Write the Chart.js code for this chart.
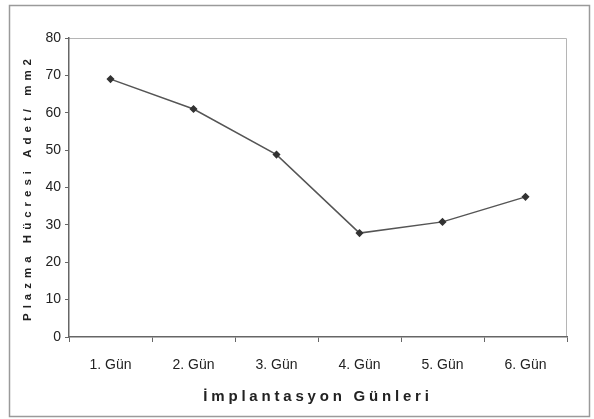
<!DOCTYPE html>
<html><head>
<meta charset="utf-8">
<title>Plazma Hücresi</title>
<style>
  body { margin: 0; background: #ffffff; }
  canvas { display: block; }
</style>
</head>
<body>
<canvas id="chart" width="594" height="419"></canvas>
<script src="https://cdn.jsdelivr.net/npm/chart.js"></script>
<script>
const days = ['1. Gün', '2. Gün', '3. Gün', '4. Gün', '5. Gün', '6. Gün'];
const plasmaCells = [69, 61, 48.8, 27.8, 30.8, 37.5];
const yTicks = [0, 10, 20, 30, 40, 50, 60, 70, 80];

const fontFamily = "'Liberation Sans', Arial, Helvetica, sans-serif";

// outer frame + plot frame
const frames = {
  id: 'frames',
  beforeDraw(chart) {
    const ctx = chart.ctx;
    const a = chart.chartArea;
    ctx.save();
    ctx.fillStyle = '#ffffff';
    ctx.fillRect(0, 0, chart.width, chart.height);
    ctx.strokeStyle = '#9a9a9a';
    ctx.lineWidth = 1.5;
    ctx.strokeRect(9.5, 5.5, 580, 411);
    ctx.strokeStyle = '#b5b5b5';
    ctx.lineWidth = 1;
    ctx.beginPath();
    ctx.moveTo(a.left, a.top + 0.5);
    ctx.lineTo(a.right - 0.5, a.top + 0.5);
    ctx.lineTo(a.right - 0.5, a.bottom);
    ctx.stroke();
    ctx.restore();
  }
};

// spaced-out axis titles
const spacedTitles = {
  id: 'spacedTitles',
  afterLayout(chart) {
    [['x', '3.8px'], ['y', '5px']].forEach(([id, sp]) => {
      const s = chart.scales[id];
      if (s.__patched) return;
      const orig = s.drawTitle;
      s.drawTitle = function () {
        this.ctx.save();
        this.ctx.letterSpacing = sp;
        orig.call(this);
        this.ctx.restore();
      };
      s.__patched = true;
    });
  }
};

new Chart(document.getElementById('chart'), {
  type: 'line',
  data: {
    labels: days,
    datasets: [{
      data: plasmaCells,
      borderColor: '#555555',
      borderWidth: 1.5,
      pointStyle: 'rectRot',
      pointRadius: 3,
      pointBackgroundColor: '#333333',
      pointBorderColor: '#333333',
      tension: 0
    }]
  },
  options: {
    responsive: false,
    animation: false,
    layout: { padding: { top: 38, right: 27, left: 10, bottom: 0 } },
    plugins: {
      legend: { display: false },
      tooltip: { enabled: false }
    },
    scales: {
      x: {
        offset: true,
        grid: { offset: true, drawOnChartArea: false, tickLength: 5, color: '#666666' },
        border: { color: '#666666', width: 1.5 },
        ticks: { color: '#222222', padding: 15, font: { family: fontFamily, size: 14 } },
        title: {
          display: true,
          text: 'İmplantasyon Günleri',
          color: '#222222',
          font: { family: fontFamily, size: 15, weight: 'bold' },
          padding: { top: 2, bottom: 13 }
        },
        afterFit(s) { s.height = 82; }
      },
      y: {
        min: 0,
        max: 80,
        afterBuildTicks(s) { s.ticks = yTicks.map(v => ({ value: v })); },
        grid: { drawOnChartArea: false, tickLength: 4, color: '#666666' },
        border: { color: '#666666', width: 1.5 },
        ticks: { color: '#222222', padding: 4, font: { family: fontFamily, size: 14 } },
        title: {
          display: true,
          text: 'Plazma Hücresi Adet/ mm2',
          color: '#222222',
          font: { family: fontFamily, size: 11.5, weight: 'bold' },
          padding: { top: 11, bottom: 0 }
        },
        afterFit(s) { s.width = 59; }
      }
    }
  },
  plugins: [frames, spacedTitles]
});
</script>
</body></html>
